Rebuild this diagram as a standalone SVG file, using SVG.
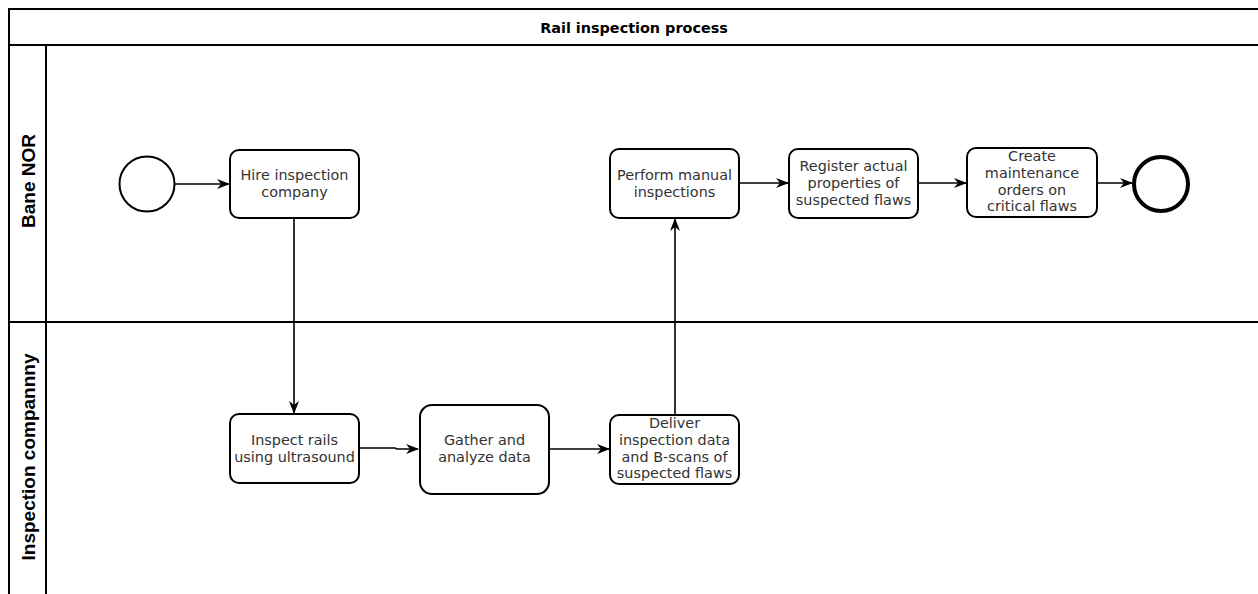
<svg xmlns="http://www.w3.org/2000/svg" width="1258" height="594" viewBox="0 0 1258 594">
<defs>
<marker id="arr" viewBox="0 0 13 10" refX="12" refY="5" markerWidth="13" markerHeight="10" markerUnits="userSpaceOnUse" orient="auto">
<path d="M0,0 L13,5 L0,10 L4,5 Z" fill="#000"/>
</marker>
<style>
.pool{fill:#fff;stroke:#000;stroke-width:2}
.ln{stroke:#000;stroke-width:2;fill:none}
.task{fill:#fff;stroke:#000;stroke-width:2}
.ev{fill:#fff;stroke:#000;stroke-width:2}
.end{fill:#fff;stroke:#000;stroke-width:4}
.t{font-family:"DejaVu Sans",Verdana,sans-serif;font-size:14.4px;fill:#333;text-anchor:middle}
.title{font-family:"DejaVu Sans",Verdana,sans-serif;font-size:14.4px;font-weight:bold;fill:#000;text-anchor:middle}
.lane{font-family:"Liberation Sans",Arial,sans-serif;font-size:19px;font-weight:bold;fill:#000;text-anchor:middle}
.c{stroke:#000;stroke-width:1.6;fill:none;marker-end:url(#arr)}
</style>
</defs>
<rect width="1258" height="594" fill="#fff"/>
<g id="pool">
<rect class="pool" x="9" y="9" width="1270" height="600"/>
<line class="ln" x1="9" y1="45" x2="1270" y2="45"/>
<line class="ln" x1="46" y1="45" x2="46" y2="600"/>
<line class="ln" x1="9" y1="322" x2="1270" y2="322"/>
<text class="title" x="634" y="33">Rail inspection process</text>
</g>
<g id="lane-bane">
<text class="lane" transform="translate(35,181) rotate(-90)">Bane NOR</text>
</g>
<g id="lane-inspection">
<text class="lane" transform="translate(35,457) rotate(-90)">Inspection compannny</text>
</g>
<g id="connectors">
<line class="c" x1="175" y1="184" x2="229" y2="184"/>
<line class="c" x1="294" y1="218" x2="294" y2="413"/>
<polyline class="c" points="359,448 395,448 397,449 418,449"/>
<line class="c" x1="549" y1="449" x2="609" y2="449"/>
<line class="c" x1="675" y1="415" x2="675" y2="219"/>
<line class="c" x1="739" y1="183" x2="788" y2="183"/>
<line class="c" x1="918" y1="183" x2="966" y2="183"/>
<line class="c" x1="1097" y1="183" x2="1132" y2="183"/>
</g>
<g id="start"><circle class="ev" cx="147" cy="184" r="27.5"/></g>
<g id="hire">
<rect class="task" x="230" y="150" width="129" height="68" rx="9"/>
<text class="t" x="294.5" y="180">Hire inspection</text>
<text class="t" x="294.5" y="197">company</text>
</g>
<g id="perform">
<rect class="task" x="610" y="149" width="129" height="69" rx="9"/>
<text class="t" x="674.5" y="180">Perform manual</text>
<text class="t" x="674.5" y="197">inspections</text>
</g>
<g id="register">
<rect class="task" x="789" y="149" width="129" height="69" rx="9"/>
<text class="t" x="853.5" y="171">Register actual</text>
<text class="t" x="853.5" y="188">properties of</text>
<text class="t" x="853.5" y="205">suspected flaws</text>
</g>
<g id="create">
<rect class="task" x="967" y="148" width="130" height="69" rx="9"/>
<text class="t" x="1032" y="161">Create</text>
<text class="t" x="1032" y="178">maintenance</text>
<text class="t" x="1032" y="195">orders on</text>
<text class="t" x="1032" y="211">critical flaws</text>
</g>
<g id="end"><circle class="end" cx="1161" cy="184" r="27"/></g>
<g id="inspect">
<rect class="task" x="230" y="414" width="129" height="69" rx="9"/>
<text class="t" x="294.5" y="445">Inspect rails</text>
<text class="t" x="294.5" y="462">using ultrasound</text>
</g>
<g id="gather">
<rect class="task" x="420" y="405" width="129" height="89" rx="12"/>
<text class="t" x="484.5" y="445">Gather and</text>
<text class="t" x="484.5" y="462">analyze data</text>
</g>
<g id="deliver">
<rect class="task" x="610" y="415" width="129" height="69" rx="9"/>
<text class="t" x="674.5" y="428">Deliver</text>
<text class="t" x="674.5" y="445">inspection data</text>
<text class="t" x="674.5" y="462">and B-scans of</text>
<text class="t" x="674.5" y="478">suspected flaws</text>
</g>
</svg>
